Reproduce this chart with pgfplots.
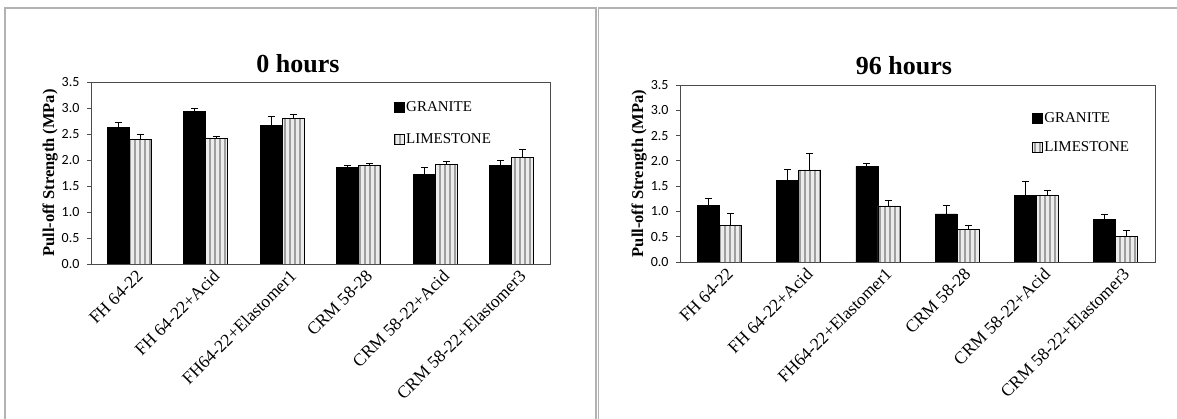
\documentclass[border=0pt]{standalone}
\usepackage{fontspec}
\setmainfont{Liberation Serif}
\newfontfamily\tickfont{Carlito}
\usepackage{pgfplots}
\usepackage{pgfplotstable}
\pgfplotsset{compat=1.18}
\usetikzlibrary{patterns.meta}

\pgfplotstableread{
x g gerr l lerr
0 2.62 0.10 2.39 0.11
1 2.94 0.05 2.42 0.04
2 2.67 0.16 2.80 0.07
3 1.85 0.04 1.90 0.03
4 1.72 0.14 1.92 0.06
5 1.89 0.11 2.05 0.15
}\zeroh

\pgfplotstableread{
x g gerr l lerr
0 1.12 0.14 0.72 0.24
1 1.62 0.21 1.82 0.32
2 1.89 0.06 1.11 0.11
3 0.95 0.17 0.64 0.08
4 1.31 0.28 1.31 0.11
5 0.85 0.10 0.51 0.12
}\ninetysixh

\pgfplotsset{
  myaxis/.style={
    scale only axis,
    ybar=0pt, bar width=22pt,
    ymin=0, ymax=3.5,
    ytick={0,0.5,1,1.5,2,2.5,3,3.5},
    yticklabels={0.0,0.5,1.0,1.5,2.0,2.5,3.0,3.5},
    xmin=-0.5, xmax=5.5,
    xtick={0,1,2,3,4,5},
    xticklabels={FH 64-22, FH 64-22+Acid, FH64-22+Elastomer1, CRM 58-28, CRM 58-22+Acid, CRM 58-22+Elastomer3},
    x tick label style={rotate=45, anchor=north east, font=\fontsize{17.5}{17.5}\selectfont, inner sep=1pt, yshift=-4pt, xshift=5pt},
    y tick label style={font=\tickfont\fontsize{14}{14}\selectfont, xshift=-4pt},
    tick align=outside, major tick length=4pt,
    xtick style={draw=none},
    ytick style={black!70, line width=0.8pt},
    ytick pos=left, xtick pos=bottom,
    axis line style={black!70, line width=0.8pt},
    ylabel={Pull-off Strength (MPa)},
    ylabel style={font=\bfseries\fontsize{16.5}{16.5}\selectfont, yshift=-3pt},
    legend style={draw=none, fill=none, font=\fontsize{15}{15}\selectfont, row sep=21pt, inner sep=0pt,
      nodes={inner xsep=1.5pt, inner ysep=0pt}},
    legend cell align=left,
    legend image code/.code={\draw[##1] (0pt,-5pt) rectangle (10pt,5pt);},
    error bars/y dir=plus, error bars/y explicit,
    error bars/error bar style={draw=black, line width=0.9pt},
    error bars/error mark options={rotate=90, mark size=3.5pt, draw=black, line width=0.9pt},
  },
  granite/.style={draw=black, fill=black, line width=0.6pt},
  limestone/.style={draw=black, line width=0.6pt, fill=gray!15,
    postaction={pattern={Lines[angle=90, distance=5pt, line width=2.2pt]}, pattern color=gray!75}},
}

\begin{document}
\begin{tikzpicture}[x=1pt, y=1pt]
\path[use as bounding box, fill=white] (0,0) rectangle (1177,419);
\draw[gray!60, line width=1.3pt] (5,0) -- (5,411) -- (596,411) -- (596,0);
\draw[gray!60, line width=1.3pt] (598.5,0) -- (598.5,411) -- (1177,411);

\node[font=\bfseries\fontsize{26}{26}\selectfont, anchor=base] at (298,346) {0 hours};
\node[font=\bfseries\fontsize{26}{26}\selectfont, anchor=base] at (904,344) {96 hours};

\begin{axis}[myaxis, at={(91pt,155pt)}, anchor=south west, width=459pt, height=182pt,
  legend style={at={(axis description cs:0.66,0.895)}, anchor=north west}]
\addplot[granite] table[x=x, y=g, y error=gerr] \zeroh;
\addplot[limestone] table[x=x, y=l, y error=lerr] \zeroh;
\legend{GRANITE, LIMESTONE}
\end{axis}

\begin{axis}[myaxis, at={(680pt,157pt)}, anchor=south west, width=475pt, height=177pt,
  legend style={at={(axis description cs:0.741,0.845)}, anchor=north west, row sep=18pt}]
\addplot[granite] table[x=x, y=g, y error=gerr] \ninetysixh;
\addplot[limestone] table[x=x, y=l, y error=lerr] \ninetysixh;
\legend{GRANITE, LIMESTONE}
\end{axis}
\end{tikzpicture}
\end{document}
